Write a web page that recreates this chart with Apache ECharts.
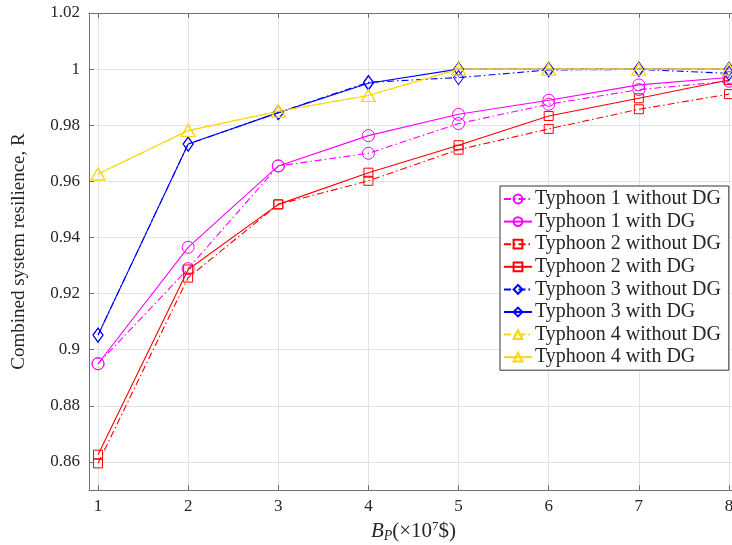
<!DOCTYPE html>
<html>
<head>
<meta charset="utf-8">
<script src="https://cdn.jsdelivr.net/npm/echarts@6/dist/echarts.min.js"></script>
<style>html,body{margin:0;padding:0;background:#fff;}#c{width:732px;height:545px;}</style>
</head>
<body>
<div id="c"></div>
<script>
const budgets = [1, 2, 3, 4, 5, 6, 7, 8];
const t1NoDG = [0.895, 0.9289, 0.9655, 0.9700, 0.9806, 0.9875, 0.9927, 0.9957];
const t1DG   = [0.895, 0.9365, 0.9655, 0.9763, 0.9839, 0.9889, 0.9944, 0.9970];
const t2NoDG = [0.8595, 0.9257, 0.9518, 0.9602, 0.9713, 0.9787, 0.9857, 0.9911];
const t2DG   = [0.8626, 0.9286, 0.9518, 0.9631, 0.9729, 0.9833, 0.9896, 0.9961];
const t3NoDG = [0.9052, 0.9733, 0.9845, 0.9953, 0.9970, 0.9997, 0.9999, 0.9985];
const t3DG   = [0.9052, 0.9733, 0.9845, 0.9950, 1.0000, 1.0000, 1.0000, 1.0000];
const t4NoDG = [0.9626, 0.9781, 0.9850, 0.9906, 1.0000, 1.0000, 1.0000, 1.0000];
const t4DG   = [0.9626, 0.9781, 0.9850, 0.9906, 1.0000, 1.0000, 1.0000, 1.0000];
const names = ['Typhoon 1 without DG','Typhoon 1 with DG','Typhoon 2 without DG','Typhoon 2 with DG',
               'Typhoon 3 without DG','Typhoon 3 with DG','Typhoon 4 without DG','Typhoon 4 with DG'];

const FONT = 'Liberation Serif';
const dashDot = [7, 3, 1.5, 3];
function mk(name, vals, color, symbol, size, dashed) {
  return {
    name: name, type: 'line',
    data: budgets.map((b, i) => [b, vals[i]]),
    symbol: symbol, symbolSize: size, showSymbol: true,
    itemStyle: { color: 'rgba(0,0,0,0)', borderColor: color, borderWidth: 1 },
    lineStyle: { color: color, width: 1.1, type: dashed ? dashDot : 'solid' },
    emphasis: { disabled: true },
    animation: false, z: 3
  };
}
const MAG = '#ff00ff', RED = '#ff0000', BLUE = '#0000ff', YEL = '#ffd60a';
const series = [
  mk(names[0], t1NoDG, MAG, 'circle', 12, true),
  mk(names[1], t1DG, MAG, 'circle', 12, false),
  mk(names[2], t2NoDG, RED, 'rect', 9, true),
  mk(names[3], t2DG, RED, 'rect', 9, false),
  mk(names[4], t3NoDG, BLUE, 'diamond', [10, 14], true),
  mk(names[5], t3DG, BLUE, 'diamond', [10, 14], false),
  mk(names[6], t4NoDG, YEL, 'triangle', [14, 12], true),
  mk(names[7], t4DG, YEL, 'triangle', [14, 12], false)
];

const axisCol = '#707070';
const fmt = v => String(+(+v).toFixed(4));
const chart = echarts.init(document.getElementById('c'), null, { renderer: 'canvas' });
chart.setOption({
  animation: false,
  backgroundColor: '#fff',
  textStyle: { fontFamily: FONT },
  grid: { left: 89, top: 13, width: 649, height: 477, outerBoundsMode: 'none', containLabel: false },
  xAxis: [{
    type: 'value', min: 0.9, max: 8.1, minInterval: 1, maxInterval: 1, splitNumber: 7,
    axisLine: { show: true, lineStyle: { color: axisCol, width: 1 } },
    axisTick: { show: true, inside: true, length: 5, lineStyle: { color: axisCol } },
    splitLine: { show: true, lineStyle: { color: '#e3e3e3', width: 1 } },
    axisLabel: { showMinLabel: false, showMaxLabel: false, margin: 8, color: '#262626',
                 fontFamily: FONT, fontSize: 17, formatter: fmt },
    name: '{i|B}{s|P}(×10{p|7}$)', nameLocation: 'middle', nameGap: 27,
    nameTextStyle: { color: '#262626', fontFamily: FONT, fontSize: 21,
      rich: {
        i: { fontStyle: 'italic', fontFamily: FONT, fontSize: 21, color: '#262626' },
        s: { fontStyle: 'italic', fontFamily: FONT, fontSize: 14, verticalAlign: 'bottom', padding: [9, 0, 0, 0], color: '#262626' },
        p: { fontFamily: FONT, fontSize: 13, verticalAlign: 'top', padding: [0, 0, 9, 0], color: '#262626' }
      } }
  }, {
    type: 'value', position: 'top', min: 0.9, max: 8.1, minInterval: 1, maxInterval: 1, splitNumber: 7,
    axisLine: { show: true, lineStyle: { color: axisCol, width: 1 } },
    axisTick: { show: true, inside: true, length: 5, lineStyle: { color: axisCol } },
    splitLine: { show: false }, axisLabel: { show: false }
  }],
  yAxis: [{
    type: 'value', min: 0.85, max: 1.02001, minInterval: 0.02, maxInterval: 0.02, splitNumber: 8,
    axisLine: { show: true, lineStyle: { color: axisCol, width: 1 } },
    axisTick: { show: true, inside: true, length: 5, lineStyle: { color: axisCol } },
    splitLine: { show: true, lineStyle: { color: '#e3e3e3', width: 1 } },
    axisLabel: { showMinLabel: false, showMaxLabel: false, margin: 9, color: '#262626',
                 fontFamily: FONT, fontSize: 17, formatter: fmt },
    name: 'Combined system resilience, R', nameLocation: 'middle', nameGap: 60, nameRotate: 90,
    nameTextStyle: { color: '#262626', fontFamily: FONT, fontSize: 19 }
  }],
  legend: {
    data: names, orient: 'vertical', left: 500, top: 186,
    backgroundColor: '#ffffff', borderColor: '#333', borderWidth: 1,
    padding: [3, 8, 3, 3], itemGap: 2.6, itemWidth: 28, itemHeight: 11,
    textStyle: { fontFamily: FONT, fontSize: 20, lineHeight: 20, color: '#262626', padding: [0, 0, 0, -2] },
    selectedMode: false
  },
  series: series
});
</script>
</body>
</html>
